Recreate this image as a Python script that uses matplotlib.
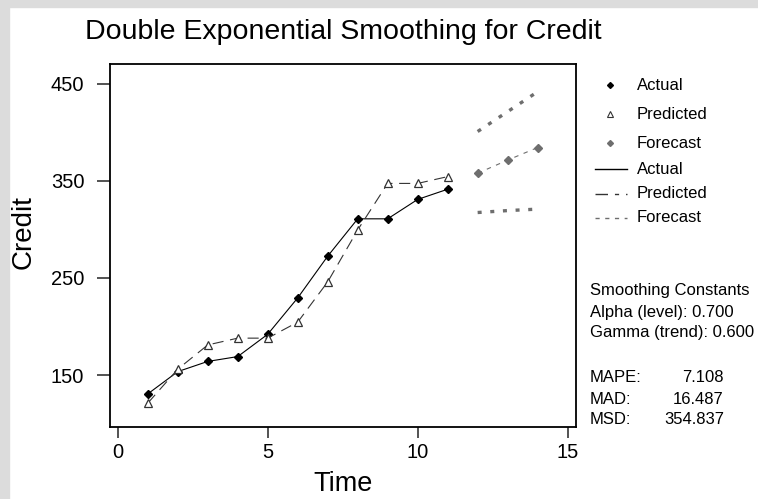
import matplotlib
matplotlib.use("Agg")
import matplotlib.pyplot as plt
from matplotlib.patches import Rectangle

plt.rcParams['font.family'] = ['Liberation Sans', 'DejaVu Sans']

# data
time = [1, 2, 3, 4, 5, 6, 7, 8, 9, 10, 11]
actual = [130.5, 153.5, 164, 169, 192, 229.5, 272.5, 311, 311, 331, 341.5]
predicted = [121, 156, 181, 188, 188, 204.5, 246, 299.5, 347.5, 347.5, 354.5]
fc_time = [12, 13, 14]
forecast = [358, 371.5, 384.5]
upper = [401, 421.5, 442]
lower = [317.5, 319.5, 321]

stats_names = ["MAPE:", "MAD:", "MSD:"]
stats_vals = ["7.108", "16.487", "354.837"]

W, H = 758, 499
fig = plt.figure(figsize=(W / 100, H / 100), dpi=100)
fig.patch.set_facecolor('white')

# light gray frame on left / top
gray = '#dcdcdc'
fig.patches.append(Rectangle((0, 0), 9 / W, 1, transform=fig.transFigure, color=gray, zorder=0))
fig.patches.append(Rectangle((0, 1 - 7 / H), 1, 7 / H, transform=fig.transFigure, color=gray, zorder=0))

# main axes, pixel box 110..576 x 64..427
ax = fig.add_axes([110 / W, 1 - 427 / H, (576 - 110) / W, (427 - 64) / H])
ax.plot(time, actual, color='black', lw=0.8, marker='D', ms=4, mfc='black', mec='black')
ax.plot(time, predicted, color='#333333', lw=0.8, dashes=[10, 6], marker='^', ms=6,
        mfc='white', mec='#333333', mew=0.9)
ax.plot(fc_time, forecast, color='#6e6e6e', lw=0.8, dashes=[4, 5], marker='D', ms=4,
        mfc='#6e6e6e', mec='#6e6e6e')
ax.plot(fc_time, upper, color='#6e6e6e', lw=2.4, dashes=[1.2, 2.6])
ax.plot(fc_time, lower, color='#6e6e6e', lw=2.4, dashes=[1.2, 2.6])

ax.set_xlim(-0.26, 15.28)
ax.set_ylim(96.4, 470.6)
ax.set_xticks([0, 5, 10, 15])
ax.set_yticks([150, 250, 350, 450])
ax.tick_params(axis='x', length=8, width=1.3, labelsize=14.5, color='#444444', pad=3.5)
ax.tick_params(axis='y', length=9.5, width=1.3, labelsize=14.5, color='#444444', pad=9)
for s in ax.spines.values():
    s.set_linewidth(1.3)

fig.text(343 / W, 1 - 32 / H, "Double Exponential Smoothing for Credit", ha='center', va='center', fontsize=20.5)
fig.text(343 / W, 1 - 484 / H, "Time", ha='center', va='center', fontsize=19.5)
fig.text(24 / W, 1 - 232 / H, "Credit", ha='center', va='center', fontsize=20, rotation=90)

# legend drawn in pixel coordinates
lg = fig.add_axes([0, 0, 1, 1], facecolor='none')
lg.set_xlim(0, W)
lg.set_ylim(H, 0)
lg.axis('off')
rows = [85, 114, 143, 169, 194, 218]
labels = ["Actual", "Predicted", "Forecast", "Actual", "Predicted", "Forecast"]
lg.plot([610], [rows[0]], marker='D', ms=3, color='black', ls='none')
lg.plot([610], [rows[1]], marker='^', ms=4.5, mfc='white', mec='#333333', mew=0.8, ls='none')
lg.plot([610], [rows[2]], marker='D', ms=3, color='#6e6e6e', ls='none')
lg.plot([595, 627], [rows[3]] * 2, color='black', lw=1)
lg.plot([595, 627], [rows[4]] * 2, color='#333333', lw=1, dashes=[9, 5, 3, 5])
lg.plot([595, 627], [rows[5]] * 2, color='#6e6e6e', lw=1, dashes=[3, 4])
for y, t in zip(rows, labels):
    lg.text(637, y, t, ha='left', va='center', fontsize=12)

lg.text(590, 290, "Smoothing Constants", ha='left', va='center', fontsize=12)
lg.text(590, 312, "Alpha (level): 0.700", ha='left', va='center', fontsize=12)
lg.text(590, 333, "Gamma (trend): 0.600", ha='left', va='center', fontsize=12)
for i, (n, v) in enumerate(zip(stats_names, stats_vals)):
    y = 378 + i * 21
    lg.text(590, y, n, ha='left', va='center', fontsize=12)
    lg.text(724, y, v, ha='right', va='center', fontsize=12)

fig.savefig("out.png", dpi=100)
